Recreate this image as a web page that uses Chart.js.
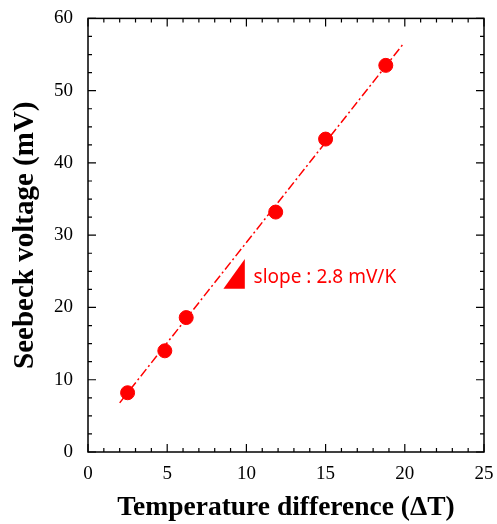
<!DOCTYPE html>
<html lang="en">
<head>
<meta charset="utf-8">
<title>Seebeck voltage</title>
<script src="https://cdn.jsdelivr.net/npm/chart.js@4.4.1/dist/chart.umd.min.js"></script>
<style>
  html, body { margin: 0; padding: 0; background: #fff; }
  #wrap { width: 497px; height: 524px; }
</style>
</head>
<body>
<div id="wrap"><canvas id="chart"></canvas></div>
<script>
"use strict";

// data
const tempDiff = [2.5, 4.85, 6.2, 11.85, 15.0, 18.8];
const seebeckV = [8.2, 14.0, 18.6, 33.2, 43.3, 53.5];

// fitted line, end points
const fitX = [2.0, 19.95];
const fitY = [6.8, 56.6];

// slope triangle
const triX = [8.55, 9.9, 9.9];
const triY = [22.6, 22.6, 26.7];

const slopeText = "slope : 2.8 mV/K";
const slopePos = [10.45, 24.2];

const red = "#ff0000";
const serif = "'Liberation Serif', 'Times New Roman', serif";

Chart.defaults.font.family = serif;
Chart.defaults.font.size = 19;
Chart.defaults.color = "#000";

// frame, inward ticks, triangle and label
const extras = {
    id: "extras",
    afterDatasetsDraw(chart) {
        const ctx = chart.ctx;
        const xs = chart.scales.x;
        const ys = chart.scales.y;
        const a = chart.chartArea;

        ctx.save();
        // triangle
        ctx.fillStyle = red;
        ctx.beginPath();
        triX.forEach((v, i) => {
            const px = xs.getPixelForValue(v);
            const py = ys.getPixelForValue(triY[i]);
            if (i === 0) ctx.moveTo(px, py); else ctx.lineTo(px, py);
        });
        ctx.closePath();
        ctx.fill();

        ctx.font = "19px 'Noto Sans', sans-serif";
        ctx.textBaseline = "middle";
        ctx.textAlign = "left";
        ctx.fillText(slopeText, xs.getPixelForValue(slopePos[0]), ys.getPixelForValue(slopePos[1]));

        // frame
        ctx.strokeStyle = "#000";
        ctx.lineWidth = 1.5;
        ctx.strokeRect(a.left, a.top, a.right - a.left, a.bottom - a.top);

        ctx.lineWidth = 1.2;
        ctx.beginPath();
        for (let v = 0; v <= 25; v += 1) {
            const px = xs.getPixelForValue(v);
            const len = v % 5 === 0 ? 8 : 4;
            ctx.moveTo(px, a.bottom); ctx.lineTo(px, a.bottom - len);
            ctx.moveTo(px, a.top); ctx.lineTo(px, a.top + len);
        }
        for (let v = 0; v <= 60; v += 2.5) {
            const py = ys.getPixelForValue(v);
            const len = v % 10 === 0 ? 8 : 4;
            ctx.moveTo(a.left, py); ctx.lineTo(a.left + len, py);
            ctx.moveTo(a.right, py); ctx.lineTo(a.right - len, py);
        }
        ctx.stroke();
        ctx.restore();
    }
};

new Chart(document.getElementById("chart"), {
    type: "scatter",
    data: {
        datasets: [
            {
                label: "fit",
                data: fitX.map((x, i) => ({ x: x, y: fitY[i] })),
                showLine: true,
                borderColor: red,
                borderWidth: 1.5,
                borderDash: [9, 3, 2, 3],
                pointRadius: 0,
                order: 2
            },
            {
                label: "Seebeck voltage",
                data: tempDiff.map((x, i) => ({ x: x, y: seebeckV[i] })),
                backgroundColor: red,
                borderColor: red,
                pointRadius: 7,
                pointHoverRadius: 7,
                order: 1
            }
        ]
    },
    plugins: [extras],
    options: {
        responsive: true,
        maintainAspectRatio: false,
        animation: false,
        layout: { padding: { top: 15, right: 13, left: 0, bottom: 0 } },
        plugins: {
            legend: { display: false },
            tooltip: { enabled: false }
        },
        scales: {
            x: {
                type: "linear",
                min: 0,
                max: 25,
                grid: { display: false },
                border: { display: false },
                ticks: {
                    stepSize: 5,
                    color: "#000",
                    padding: 3,
                    font: { family: serif, size: 19 }
                },
                title: {
                    display: true,
                    text: "Temperature difference (\u0394T)",
                    color: "#000",
                    font: { family: serif, size: 27.5, weight: "bold" },
                    padding: { top: 12, bottom: 0 }
                },
                afterFit(scale) { scale.height = 72; }
            },
            y: {
                type: "linear",
                min: 0,
                max: 60,
                grid: { display: false },
                border: { display: false },
                ticks: {
                    stepSize: 10,
                    color: "#000",
                    padding: 7,
                    font: { family: serif, size: 19 }
                },
                title: {
                    display: true,
                    text: "Seebeck voltage (mV)",
                    color: "#000",
                    font: { family: serif, size: 29, weight: "bold" },
                    padding: { top: 8, bottom: 0 }
                },
                afterFit(scale) { scale.width = 88; }
            }
        }
    }
});
</script>
</body>
</html>
